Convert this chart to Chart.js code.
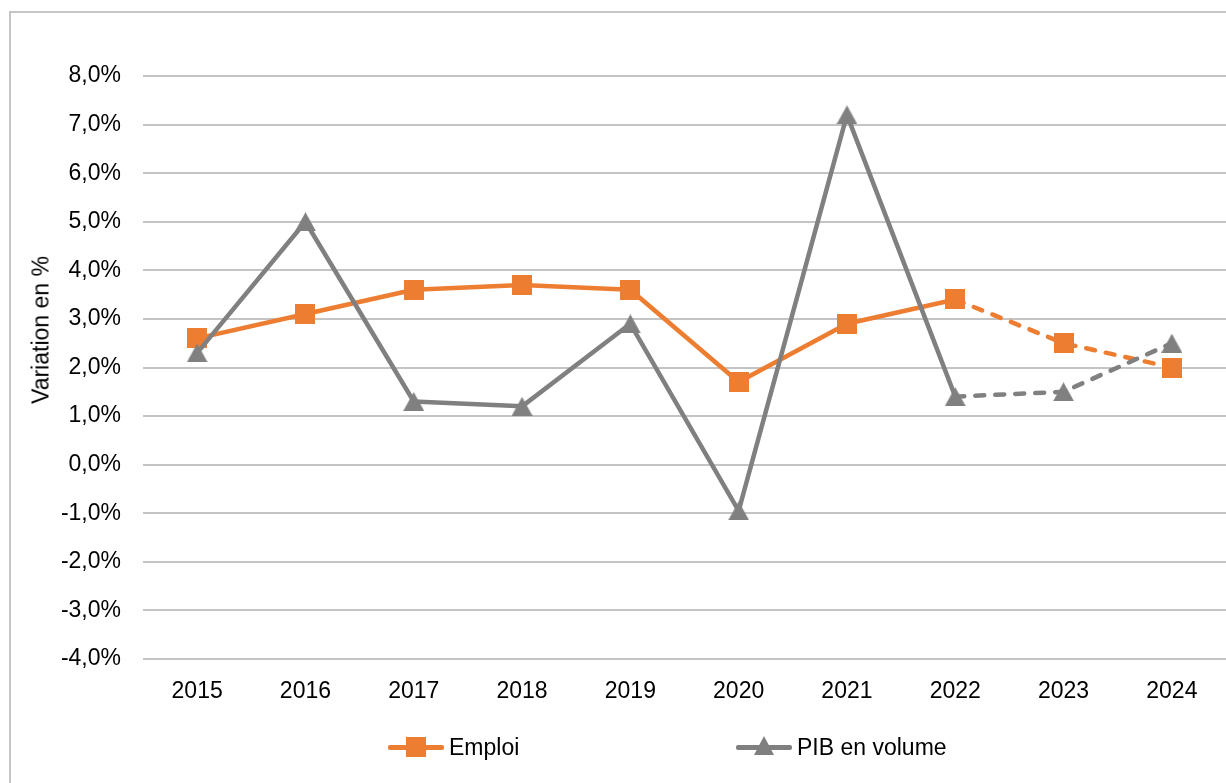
<!DOCTYPE html>
<html lang="fr">
<head>
<meta charset="utf-8">
<title>Emploi et PIB</title>
<script src="https://cdn.jsdelivr.net/npm/chart.js@4/dist/chart.umd.min.js"></script>
<style>
    html, body { margin: 0; padding: 0; background: #ffffff; overflow: hidden; }
    body { width: 1226px; height: 783px; position: relative; font-family: "Liberation Sans", Arial, sans-serif; color: #000; }
    #frame { position: absolute; left: 9px; top: 11px; width: 1300px; height: 900px; border: 2px solid #c6c6c6; }
    #chart { position: absolute; left: 0; top: 0; }
    #yTitle { position: absolute; left: 41px; top: 330px; transform: translate(-50%, -50%) rotate(-90deg); font-size: 23px; white-space: nowrap; }
    .legend-item { position: absolute; top: 747px; height: 0; }
    .legend-line { position: absolute; top: -2px; width: 56px; height: 4.5px; border-radius: 2px; }
    .legend-text { position: absolute; left: 61px; top: -13px; font-size: 23px; white-space: nowrap; line-height: 26px; }
    .mark-square { position: absolute; left: 18px; top: -10px; width: 20px; height: 20px; }
    .mark-triangle { position: absolute; left: 18px; top: -11px; width: 0; height: 0; border-left: 10px solid transparent; border-right: 10px solid transparent; }
</style>
</head>
<body>
<div id="frame"></div>
<!-- canvas a bit wider than the window: the plot runs off the right edge, like the reference -->
<canvas id="chart" width="1236" height="783"></canvas>
<div id="yTitle">Variation en %</div>
<div class="legend-item" style="left:388px">
    <div class="legend-line" style="background:#ED7D31"></div>
    <div class="mark-square" style="background:#ED7D31"></div>
    <div class="legend-text">Emploi</div>
</div>
<div class="legend-item" style="left:736px">
    <div class="legend-line" style="background:#808080"></div>
    <div class="mark-triangle" style="border-bottom:19px solid #808080"></div>
    <div class="legend-text">PIB en volume</div>
</div>
<script>
// Data
const years = ['2015', '2016', '2017', '2018', '2019', '2020', '2021', '2022', '2023', '2024'];
const emploi = [2.6, 3.1, 3.6, 3.7, 3.6, 1.7, 2.9, 3.4, 2.5, 2.0];
const pibVolume = [2.3, 5.0, 1.3, 1.2, 2.9, -0.95, 7.2, 1.4, 1.5, 2.5];
const forecastFrom = 7; // dashed from 2022 onward
const yMin = -4;
const yMax = 8;

const orange = '#ED7D31';
const grey = '#808080';

Chart.defaults.font.family = '"Liberation Sans", Arial, sans-serif';
Chart.defaults.font.size = 23;
Chart.defaults.color = '#000000';

// Excel-like markers, centred on their bounding box
function makeSquare(color) {
    const c = document.createElement('canvas');
    c.width = 20; c.height = 20;
    const g = c.getContext('2d');
    g.fillStyle = color;
    g.fillRect(0, 0, 20, 20);
    return c;
}

function makeTriangle(color) {
    const c = document.createElement('canvas');
    c.width = 21; c.height = 19;
    const g = c.getContext('2d');
    g.fillStyle = color;
    g.beginPath();
    g.moveTo(10.5, 0);
    g.lineTo(21, 19);
    g.lineTo(0, 19);
    g.closePath();
    g.fill();
    return c;
}

function dashedAfterForecast(ctx) {
    return ctx.p0DataIndex >= forecastFrom ? [9, 11] : undefined;
}

function frLabel(value) {
    return value.toFixed(1).replace('.', ',') + '%';
}

const ctx = document.getElementById('chart').getContext('2d');
new Chart(ctx, {
    type: 'line',
    data: {
        labels: years,
        datasets: [{
            label: 'Emploi',
            data: emploi,
            order: 1,
            borderColor: orange,
            backgroundColor: orange,
            borderWidth: 4.5,
            borderCapStyle: 'round',
            borderJoinStyle: 'round',
            pointStyle: makeSquare(orange),
            pointRadius: 10,
            pointHoverRadius: 10,
            pointBorderWidth: 0,
            tension: 0,
            segment: { borderDash: dashedAfterForecast }
        }, {
            label: 'PIB en volume',
            data: pibVolume,
            order: 0,
            borderColor: grey,
            backgroundColor: grey,
            borderWidth: 4.5,
            borderCapStyle: 'round',
            borderJoinStyle: 'round',
            pointStyle: makeTriangle(grey),
            pointRadius: 10,
            pointHoverRadius: 10,
            pointBorderWidth: 0,
            tension: 0,
            segment: { borderDash: dashedAfterForecast }
        }]
    },
    options: {
        responsive: false,
        animation: false,
        layout: { padding: { top: 76, right: 0, bottom: 0, left: 0 } },
        plugins: {
            legend: { display: false },
            tooltip: { enabled: false }
        },
        scales: {
            x: {
                offset: true,
                grid: { display: false },
                border: { display: false },
                ticks: { padding: 11, maxRotation: 0 },
                afterFit: function(scale) {
                    scale.height = 124;
                    scale.paddingLeft = 0;
                    scale.paddingRight = 0;
                }
            },
            y: {
                min: yMin,
                max: yMax,
                grid: { color: '#c4c4c4', lineWidth: 2, drawTicks: false },
                border: { display: false },
                ticks: { stepSize: 1, padding: 22, callback: frLabel },
                afterFit: function(scale) {
                    scale.width = 143;
                    scale.paddingTop = 0;
                    scale.paddingBottom = 0;
                }
            }
        }
    }
});
</script>
</body>
</html>
